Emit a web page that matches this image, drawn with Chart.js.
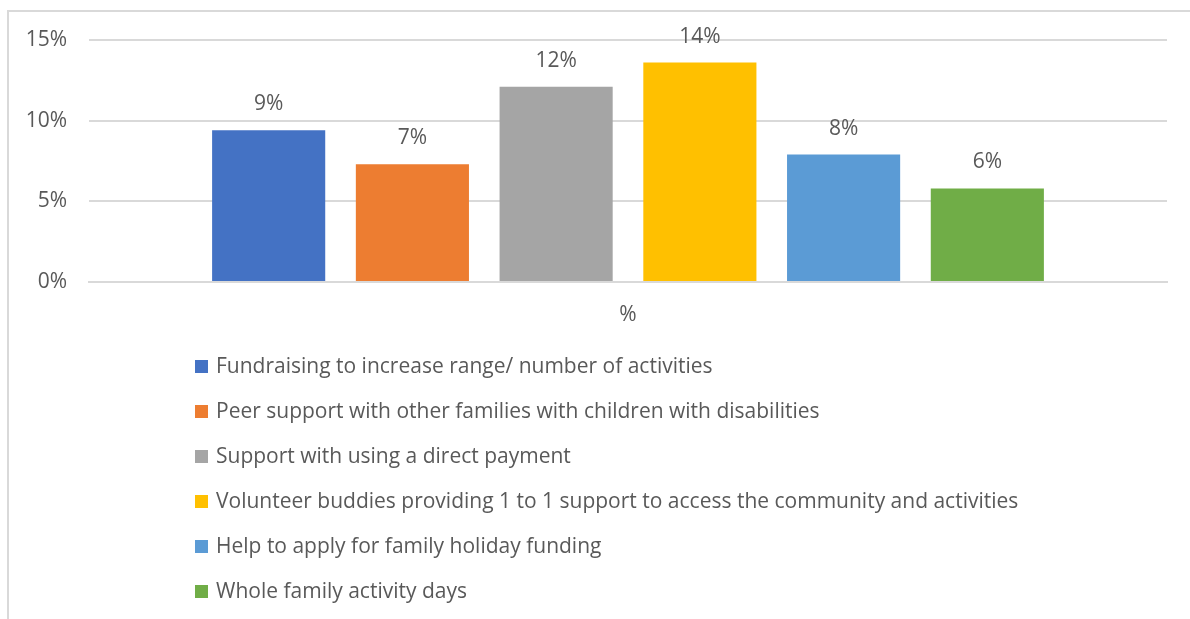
<!DOCTYPE html>
<html>
<head>
<meta charset="utf-8">
<script src="https://cdn.jsdelivr.net/npm/chart.js@4"></script>
<style>
  html, body { margin: 0; padding: 0; background: #fff; }
  #wrap { position: relative; width: 1190px; height: 619px; }
  #frame { position: absolute; left: 7px; top: 10px; right: 0; bottom: 0;
           border-left: 2px solid #d9d9d9; border-top: 2px solid #d9d9d9; }
  canvas { position: absolute; left: 0; top: 0; }
</style>
</head>
<body>
<div id="wrap">
  <div id="frame"></div>
  <canvas id="chart" width="1190" height="619"></canvas>
</div>
<script>
const categories = ['%'];
const seriesNames = [
  'Fundraising to increase range/ number of activities',
  'Peer support with other families with children with disabilities',
  'Support with using a direct payment',
  'Volunteer buddies providing 1 to 1 support to access the community and activities',
  'Help to apply for family holiday funding',
  'Whole family activity days'
];
const seriesValues = [9.4, 7.3, 12.1, 13.6, 7.9, 5.8];
const seriesColors = ['#4472c4', '#ed7d31', '#a5a5a5', '#ffc000', '#5b9bd5', '#70ad47'];
const yTicks = [0, 5, 10, 15];

const FONT = '"Open Sans", Lato, sans-serif';
const TEXT = '#595959';

// value labels above each bar
const barLabels = {
  id: 'barLabels',
  afterDatasetsDraw(chart) {
    const ctx = chart.ctx;
    ctx.save();
    ctx.font = '21px ' + FONT;
    ctx.fillStyle = TEXT;
    ctx.textAlign = 'center';
    ctx.textBaseline = 'middle';
    chart.data.datasets.forEach((ds, i) => {
      chart.getDatasetMeta(i).data.forEach((bar, j) => {
        ctx.fillText(Math.round(ds.data[j]) + '%', bar.x, bar.y - 26);
      });
    });
    ctx.restore();
  }
};

// vertical legend under the plot
const listLegend = {
  id: 'listLegend',
  afterDraw(chart) {
    const ctx = chart.ctx;
    ctx.save();
    ctx.font = '21px ' + FONT;
    ctx.textBaseline = 'middle';
    chart.data.datasets.forEach((ds, i) => {
      const y = 366 + i * 45;
      ctx.fillStyle = ds.backgroundColor;
      ctx.fillRect(195, y - 6, 13, 13);
      ctx.fillStyle = TEXT;
      ctx.fillText(ds.label, 216, y + 1);
    });
    ctx.restore();
  }
};

new Chart(document.getElementById('chart'), {
  type: 'bar',
  data: {
    labels: categories,
    datasets: seriesNames.map((name, i) => ({
      label: name,
      data: [seriesValues[i]],
      backgroundColor: seriesColors[i],
      categoryPercentage: 0.8,
      barPercentage: 0.787
    }))
  },
  options: {
    responsive: false,
    animation: false,
    layout: { padding: { left: 0, top: 40, right: 23, bottom: 287 } },
    plugins: {
      legend: { display: false },
      tooltip: { enabled: false }
    },
    scales: {
      x: {
        grid: { display: false },
        border: { color: '#d9d9d9', width: 2 },
        ticks: { color: TEXT, font: { family: FONT, size: 21 }, padding: 12 },
        afterFit(scale) { scale.height = 50; }
      },
      y: {
        min: yTicks[0],
        max: yTicks[yTicks.length - 1],
        afterBuildTicks(scale) { scale.ticks = yTicks.map(v => ({ value: v })); },
        grid: { color: '#d9d9d9', lineWidth: 2, drawTicks: false },
        border: { display: false },
        ticks: {
          color: TEXT,
          font: { family: FONT, size: 21 },
          padding: 22,
          callback: v => v + '%'
        },
        afterFit(scale) { scale.width = 89; }
      }
    }
  },
  plugins: [barLabels, listLegend]
});
</script>
</body>
</html>
